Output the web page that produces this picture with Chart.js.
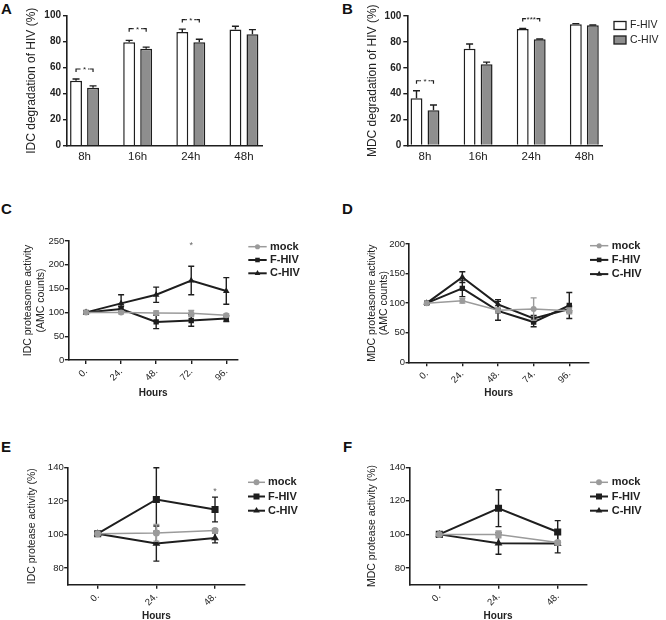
<!DOCTYPE html>
<html>
<head>
<meta charset="utf-8">
<script src="https://cdn.jsdelivr.net/npm/chart.js@4.4.1/dist/chart.umd.min.js"></script>
<style>
html, body { margin: 0; padding: 0; background: #fff; }
#page { position: relative; width: 666px; height: 620px; overflow: hidden; }
#page canvas { position: absolute; }
.tag { position: absolute; font: bold 15px "Liberation Sans", Arial, sans-serif; line-height: 15px; color: #111; }
</style>
</head>
<body>
<div id="page">
  <div class="tag" style="left:1px;top:1px">A</div>
  <div class="tag" style="left:342px;top:1px">B</div>
  <div class="tag" style="left:1px;top:201px">C</div>
  <div class="tag" style="left:342px;top:201px">D</div>
  <div class="tag" style="left:1px;top:439px">E</div>
  <div class="tag" style="left:343px;top:439px">F</div>
  <canvas id="cA"></canvas>
  <canvas id="cB"></canvas>
  <canvas id="cC"></canvas>
  <canvas id="cD"></canvas>
  <canvas id="cE"></canvas>
  <canvas id="cF"></canvas>
</div>
<script>
// ---- data ----
const barCats = ['8h', '16h', '24h', '48h'];
const barSeries = ['F-HIV', 'C-HIV'];
const lineSeries = ['mock', 'F-HIV', 'C-HIV'];

// A: IDC degradation of HIV (%)
const idcDegF = [50, 79.5, 87.5, 89.3];
const idcDegFErr = [1.3, 1.5, 2.2, 2.6];
const idcDegC = [44.5, 74.6, 79.5, 85.7];
const idcDegCErr = [1.5, 1.2, 2.4, 3.6];
const idcDegSig = ['*', '*', '*', ''];
const idcDegSigY = [59, 90, 97, null];

// B: MDC degradation of HIV (%)
const mdcDegF = [36.5, 74.8, 90, 93.6];
const mdcDegFErr = [5.8, 3.6, 0.3, 0.5];
const mdcDegC = [27.3, 62.8, 82, 92.8];
const mdcDegCErr = [4.0, 1.6, 0.2, 0.3];
const mdcDegSig = ['*', '', '***', ''];
const mdcDegSigY = [50, null, 98, null];

// C: IDC proteasome activity (AMC counts)
const hoursC = ['0.', '24.', '48.', '72.', '96.'];
const idcPrsMock = [100, 100, 99, 98, 94];
const idcPrsMockErr = [0, 3, 4, 6, 3];
const idcPrsF = [100, 107, 80, 83, 87];
const idcPrsFErr = [0, 6, 14, 12, 6];
const idcPrsC = [100, 119, 137, 167, 145];
const idcPrsCErr = [0, 18, 16, 30, 28];
const idcPrsStar = ['', '', '', '*', ''];
const idcPrsStarY = [null, null, null, 241, null];

// D: MDC proteasome activity (AMC counts)
const hoursD = ['0.', '24.', '48.', '74.', '96.'];
const mdcPrsMock = [100, 104, 88, 90, 87];
const mdcPrsMockErr = [0, 4, 4, 19, 5];
const mdcPrsF = [100, 125, 87, 68, 96];
const mdcPrsFErr = [0, 14, 16, 8, 22];
const mdcPrsC = [100, 144, 98, 74, 90];
const mdcPrsCErr = [0, 9, 8, 5, 5];

// E: IDC protease activity (%)
const hoursE = ['0.', '24.', '48.'];
const idcProMock = [100.5, 101, 102.5];
const idcProMockErr = [0, 5, 1];
const idcProF = [100.5, 121, 115];
const idcProFErr = [0, 19, 7.4];
const idcProC = [100.5, 94.6, 98];
const idcProCErr = [0, 10.5, 3];
const idcProStar = ['', '', '*'];
const idcProStarY = [null, null, 126];

// F: MDC protease activity (%)
const hoursF = ['0.', '24.', '48.'];
const mdcProMock = [100, 100, 95.2];
const mdcProMockErr = [0, 2, 1];
const mdcProF = [100, 115.6, 101.4];
const mdcProFErr = [0, 11, 6.8];
const mdcProC = [100, 94.7, 94.5];
const mdcProCErr = [0, 6.5, 5.5];

// ---- styles ----
const FONT = '"Liberation Sans", Arial, Helvetica, sans-serif';
const INK = '#1e1e1e';
const TXT = '#222';
const MOCK = '#9b9b9b';
const BAR_GRAY = '#8e8e8e';

Chart.defaults.font.family = FONT;
Chart.defaults.color = TXT;
Chart.defaults.animation = false;

function pts(vals) { return vals.map((v, i) => ({ x: i, y: v })); }

function place(id, box) {
    const c = document.getElementById(id);
    c.width = box.w; c.height = box.h;
    c.style.left = box.x + 'px'; c.style.top = box.y + 'px';
    c.style.width = box.w + 'px'; c.style.height = box.h + 'px';
    return c;
}

function padFor(box, area, yW, xH) {
    return {
        left: area.left - box.x - yW,
        right: box.x + box.w - area.right,
        top: area.top - box.y,
        bottom: box.y + box.h - area.bottom - xH
    };
}

// error bars: drawn per dataset right after it
Chart.register({
    id: 'errorBars',
    afterDatasetDraw(chart, args) {
        const ds = chart.data.datasets[args.index];
        if (!ds.errors) return;
        const y = chart.scales.y, ctx = chart.ctx;
        const cap = ds.capHalf || 3.5;
        ctx.save();
        ctx.strokeStyle = ds.borderColor;
        ctx.lineWidth = ds.errorWidth || 1.4;
        args.meta.data.forEach((el, i) => {
            const e = ds.errors[i];
            if (!e) return;
            const v = ds.data[i].y;
            const top = y.getPixelForValue(v + e);
            const bot = ds.errorUpOnly ? el.y : y.getPixelForValue(v - e);
            ctx.beginPath();
            ctx.moveTo(el.x, top); ctx.lineTo(el.x, bot);
            ctx.moveTo(el.x - cap, top); ctx.lineTo(el.x + cap, top);
            if (!ds.errorUpOnly) { ctx.moveTo(el.x - cap, bot); ctx.lineTo(el.x + cap, bot); }
            ctx.stroke();
        });
        ctx.restore();
    }
});

// significance brackets between the two bars of a group
Chart.register({
    id: 'sigBrackets',
    afterDatasetsDraw(chart, args, opts) {
        if (!opts || !opts.labels) return;
        const a = chart.getDatasetMeta(0).data, b = chart.getDatasetMeta(1).data;
        const y = chart.scales.y, ctx = chart.ctx;
        ctx.save();
        ctx.strokeStyle = INK; ctx.fillStyle = INK; ctx.lineWidth = 1.2;
        ctx.font = '8px ' + FONT;
        ctx.textAlign = 'center'; ctx.textBaseline = 'middle';
        opts.labels.forEach((lab, i) => {
            if (!lab) return;
            const x0 = a[i].x, x1 = b[i].x, yy = y.getPixelForValue(opts.heights[i]);
            const mid = (x0 + x1) / 2, gap = ctx.measureText(lab).width / 2 + 2;
            ctx.beginPath();
            ctx.moveTo(x0, yy + 3); ctx.lineTo(x0, yy); ctx.lineTo(x0 + 3, yy);
            ctx.moveTo(x1, yy + 3); ctx.lineTo(x1, yy); ctx.lineTo(x1 - 3, yy);
            ctx.stroke();
            ctx.setLineDash([1.5, 1.5]);
            ctx.beginPath();
            ctx.moveTo(x0 + 3, yy); ctx.lineTo(mid - gap, yy);
            ctx.moveTo(mid + gap, yy); ctx.lineTo(x1 - 3, yy);
            ctx.stroke();
            ctx.setLineDash([]);
            ctx.fillText(lab, mid, yy + 1);
        });
        ctx.restore();
    }
});

// stars above time points
Chart.register({
    id: 'stars',
    afterDatasetsDraw(chart, args, opts) {
        if (!opts || !opts.labels) return;
        const ctx = chart.ctx;
        ctx.save();
        ctx.fillStyle = '#666';
        ctx.font = '9px ' + FONT;
        ctx.textAlign = 'center'; ctx.textBaseline = 'middle';
        opts.labels.forEach((lab, i) => {
            if (!lab) return;
            ctx.fillText(lab, chart.scales.x.getPixelForValue(i), chart.scales.y.getPixelForValue(opts.heights[i]));
        });
        ctx.restore();
    }
});

// legend placed beside the plot
Chart.register({
    id: 'sideLegend',
    afterDraw(chart, args, opts) {
        if (!opts || opts.x === undefined) return;
        const ctx = chart.ctx;
        ctx.save();
        ctx.textBaseline = 'middle'; ctx.textAlign = 'left';
        chart.data.datasets.forEach((ds, i) => {
            const y = opts.y + i * opts.rowH;
            if (opts.kind === 'box') {
                ctx.fillStyle = ds.backgroundColor; ctx.strokeStyle = ds.borderColor; ctx.lineWidth = 1.3;
                ctx.fillRect(opts.x, y - 4, 12, 8);
                ctx.strokeRect(opts.x, y - 4, 12, 8);
                ctx.fillStyle = TXT;
                ctx.font = '10.5px ' + FONT;
            } else {
                ctx.strokeStyle = ds.borderColor; ctx.lineWidth = ds.borderWidth;
                ctx.beginPath(); ctx.moveTo(opts.x, y); ctx.lineTo(opts.x + opts.len, y); ctx.stroke();
                ctx.fillStyle = ds.borderColor;
                Chart.helpers.drawPoint(ctx, { pointStyle: ds.pointStyle, radius: ds.pointRadius * 0.85, borderWidth: 0, rotation: 0 }, opts.x + opts.len / 2, y);
                ctx.fillStyle = TXT;
                ctx.font = 'bold 11px ' + FONT;
            }
            ctx.fillText(ds.label, opts.textX, y);
        });
        ctx.restore();
    }
});

function yAxis(min, max, ticks, title, titleFont, yW, bold) {
    return {
        min: min, max: max,
        afterBuildTicks: s => { s.ticks = ticks.map(v => ({ value: v })); },
        afterFit: s => { s.width = yW; },
        border: { display: true, color: INK, width: 1.6 },
        grid: { display: true, drawOnChartArea: false, drawTicks: true, tickLength: bold ? 4 : 3.5, color: INK, lineWidth: 1.4 },
        ticks: { padding: bold ? 2 : 0.5, color: TXT, font: { size: bold ? 10 : 9.5, weight: bold ? 'bold' : 'normal' } },
        title: { display: true, text: title, padding: 0, color: TXT, font: titleFont }
    };
}

function barPanel(id, box, area, yW, xH, xMin, xMax, yTitle, f, fErr, c, cErr, sig, sigY, legend) {
    place(id, box);
    const mk = (label, vals, errs, fill) => ({
        type: 'bar', label: label, data: pts(vals), errors: errs, errorUpOnly: true, capHalf: 3.5,
        backgroundColor: fill, borderColor: INK, borderWidth: 1.5,
        barPercentage: 0.7, categoryPercentage: 0.64
    });
    return new Chart(document.getElementById(id), {
        type: 'bar',
        data: { datasets: [mk(barSeries[0], f, fErr, '#ffffff'), mk(barSeries[1], c, cErr, BAR_GRAY)] },
        options: {
            responsive: false, devicePixelRatio: 1,
            layout: { padding: padFor(box, area, yW, xH) },
            plugins: {
                legend: { display: false }, tooltip: { enabled: false },
                sigBrackets: { labels: sig, heights: sigY },
                sideLegend: legend || {}
            },
            scales: {
                x: {
                    type: 'linear', min: xMin, max: xMax, offset: false,
                    afterBuildTicks: s => { s.ticks = barCats.map((_, i) => ({ value: i })); },
                    afterFit: s => { s.height = xH; },
                    border: { display: true, color: INK, width: 1.6 },
                    grid: { display: false, drawTicks: false, offset: false },
                    ticks: { autoSkip: false, maxRotation: 0, padding: 4, color: TXT, font: { size: 11.5 }, callback: v => barCats[v] }
                },
                y: yAxis(0, 100, [0, 20, 40, 60, 80, 100], yTitle, { size: 12, lineHeight: 1.2 }, yW, true)
            }
        }
    });
}

function linePanel(id, box, area, yW, xH, xMin, xMax, yMin, yMax, yTicks, yTitle, cats, series, starLabels, starY, legend, big) {
    place(id, box);
    const styles = [
        { color: MOCK, width: 1.5, pointStyle: 'circle', r: big ? 3.5 : 3 },
        { color: INK, width: 2, pointStyle: 'rect', r: big ? 5 : 3.8 },
        { color: INK, width: 2, pointStyle: 'triangle', r: big ? 4.5 : 3.8 }
    ];
    const datasets = series.map((s, k) => ({
        label: lineSeries[k], data: pts(s[0]), errors: s[1], capHalf: 3,
        borderColor: styles[k].color, backgroundColor: styles[k].color,
        pointBackgroundColor: styles[k].color, pointBorderColor: styles[k].color,
        borderWidth: styles[k].width, pointStyle: styles[k].pointStyle,
        pointRadius: styles[k].r, pointBorderWidth: 0, tension: 0
    }));
    return new Chart(document.getElementById(id), {
        type: 'line',
        data: { datasets: datasets },
        options: {
            responsive: false, devicePixelRatio: 1,
            layout: { padding: padFor(box, area, yW, xH) },
            plugins: {
                legend: { display: false }, tooltip: { enabled: false },
                stars: starLabels ? { labels: starLabels, heights: starY } : {},
                sideLegend: legend
            },
            scales: {
                x: {
                    type: 'linear', min: xMin, max: xMax, offset: false,
                    afterBuildTicks: s => { s.ticks = cats.map((_, i) => ({ value: i })); },
                    afterFit: s => { s.height = xH; },
                    border: { display: true, color: INK, width: 1.6 },
                    grid: { display: true, drawOnChartArea: false, drawTicks: true, tickLength: 4, color: INK, lineWidth: 1.4 },
                    ticks: { autoSkip: false, minRotation: 45, maxRotation: 45, padding: 2, color: TXT, font: { size: 9.5 }, callback: v => cats[v] },
                    title: { display: true, text: 'Hours', padding: 0, color: TXT, font: { size: 10, weight: 'bold', lineHeight: 1.2 } }
                },
                y: yAxis(yMin, yMax, yTicks, yTitle, { size: 10.5, lineHeight: 1.2 }, yW, false)
            }
        }
    });
}

// ---- panels ----
const boxA = { x: 0, y: 0, w: 333, h: 180 };
const boxB = { x: 333, y: 0, w: 333, h: 180 };
const boxC = { x: 0, y: 180, w: 333, h: 240 };
const boxD = { x: 333, y: 180, w: 333, h: 240 };
const boxE = { x: 0, y: 420, w: 333, h: 205 };
const boxF = { x: 333, y: 420, w: 333, h: 205 };

barPanel('cA', boxA, { left: 67, right: 262, top: 15.7, bottom: 145.7 }, 43, 20, -0.33, 3.34,
    'IDC degradation of HIV (%)', idcDegF, idcDegFErr, idcDegC, idcDegCErr, idcDegSig, idcDegSigY, null);

barPanel('cB', boxB, { left: 407.3, right: 602.7, top: 16, bottom: 145.5 }, 42, 20, -0.333, 3.346,
    'MDC degradation of HIV (%)', mdcDegF, mdcDegFErr, mdcDegC, mdcDegCErr, mdcDegSig, mdcDegSigY,
    { kind: 'box', x: 614 - boxB.x, textX: 630 - boxB.x, y: 25.5 - boxB.y, rowH: 14.5 });

linePanel('cC', boxC, { left: 68.3, right: 238, top: 241, bottom: 360 }, 46, 39.3, -0.506, 4.334,
    0, 250, [0, 50, 100, 150, 200, 250], ['IDC proteasome activity', '(AMC counts)'], hoursC,
    [[idcPrsMock, idcPrsMockErr], [idcPrsF, idcPrsFErr], [idcPrsC, idcPrsCErr]], idcPrsStar, idcPrsStarY,
    { x: 248.3 - boxC.x, len: 18.4, textX: 270 - boxC.x, y: 246.7 - boxC.y, rowH: 13.3 }, false);

linePanel('cD', boxD, { left: 409, right: 588.3, top: 244, bottom: 362.3 }, 43.5, 37, -0.496, 4.533,
    0, 200, [0, 50, 100, 150, 200], ['MDC proteasome activity', '(AMC counts)'], hoursD,
    [[mdcPrsMock, mdcPrsMockErr], [mdcPrsF, mdcPrsFErr], [mdcPrsC, mdcPrsCErr]], null, null,
    { x: 590 - boxD.x, len: 18.3, textX: 611.7 - boxD.x, y: 245.7 - boxD.y, rowH: 14.2 }, false);

linePanel('cE', boxE, { left: 67.7, right: 245, top: 467.7, bottom: 584.7 }, 41.7, 37.3, -0.511, 2.511,
    70, 140, [80, 100, 120, 140], 'IDC protease activity (%)', hoursE,
    [[idcProMock, idcProMockErr], [idcProF, idcProFErr], [idcProC, idcProCErr]], idcProStar, idcProStarY,
    { x: 248 - boxE.x, len: 17, textX: 268 - boxE.x, y: 482.3 - boxE.y, rowH: 14.2 }, true);

linePanel('cF', boxF, { left: 409.3, right: 586.7, top: 467.3, bottom: 584.7 }, 43.3, 37.3, -0.507, 2.49,
    70, 140, [80, 100, 120, 140], 'MDC protease activity (%)', hoursF,
    [[mdcProMock, mdcProMockErr], [mdcProF, mdcProFErr], [mdcProC, mdcProCErr]], null, null,
    { x: 590 - boxF.x, len: 18, textX: 611.7 - boxF.x, y: 482.3 - boxF.y, rowH: 14.2 }, true);
</script>
</body>
</html>
